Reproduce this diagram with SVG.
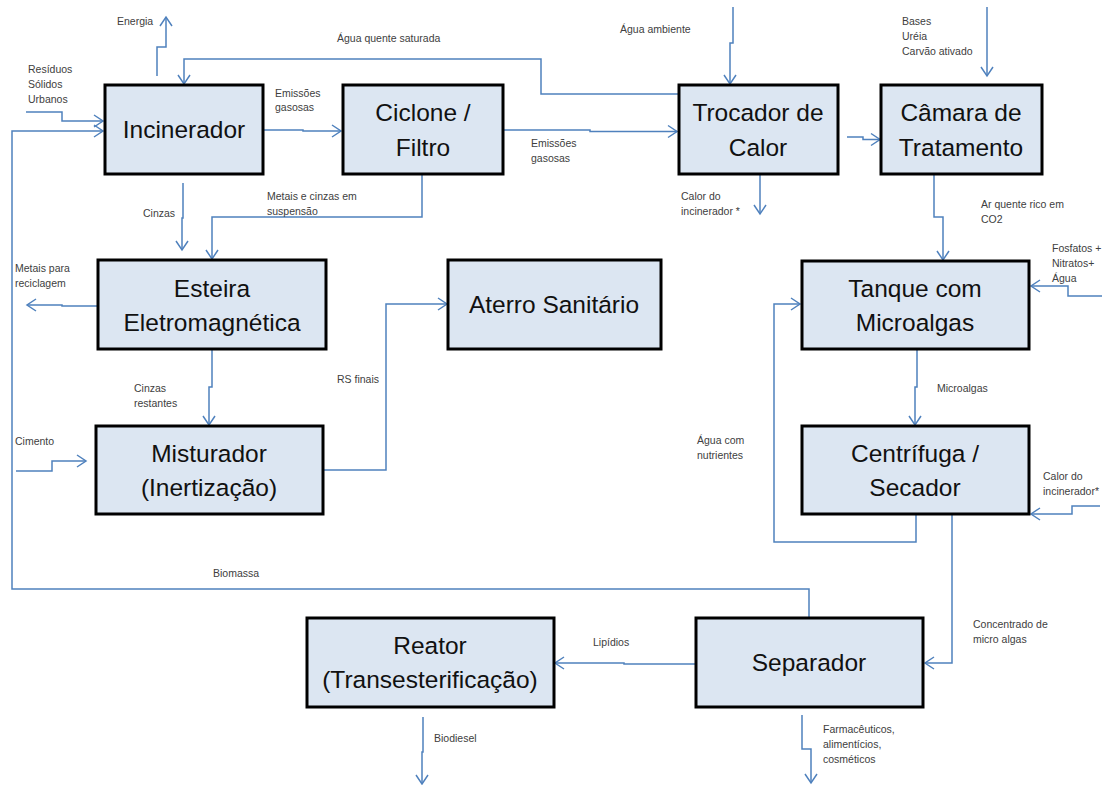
<svg xmlns="http://www.w3.org/2000/svg" width="1113" height="785" viewBox="0 0 1113 785">
<style>
.box{fill:#DCE6F2;stroke:#000;stroke-width:3}
.big{font-family:"Liberation Sans",Arial,sans-serif;font-size:24.5px;fill:#111;text-anchor:middle}
.sm{font-family:"Liberation Sans",Arial,sans-serif;font-size:10.5px;fill:#404040}
.ln{fill:none;stroke:#4F81BD;stroke-width:1.5;marker-end:url(#ah)}
.ln0{fill:none;stroke:#4F81BD;stroke-width:1.5}
</style>
<defs>
<marker id="ah" markerUnits="userSpaceOnUse" markerWidth="20" markerHeight="20" viewBox="-12 -10 14 20" refX="0" refY="0" orient="auto">
<path d="M-9,-6 L0,0 L-9,6" fill="none" stroke="#4F81BD" stroke-width="1.5"/>
</marker>
</defs>
<rect width="1113" height="785" fill="#fff"/>

<g id="connectors">
<path class="ln" d="M157,76 V47 H166 V17"/>
<path class="ln" d="M26,112 H62 V121 H103"/>
<path class="ln" d="M809,618 V589 H12 V131 H103"/>
<path class="ln" d="M678,94 H541 V59 H184 V84"/>
<path class="ln" d="M264,130 H303 V131 H341"/>
<path class="ln" d="M503,130 H590 V131.5 H677"/>
<path class="ln" d="M733,7 V43 H730 V84"/>
<path class="ln" d="M847,137 H863 V139.5 H880"/>
<path class="ln" d="M987,7 V76"/>
<path class="ln" d="M760,175 V214"/>
<path class="ln" d="M934,175 V217 H943 V260"/>
<path class="ln" d="M1102,296 H1068 V286 H1031"/>
<path class="ln" d="M916,515 V542 H774 V304 H800"/>
<path class="ln" d="M917,350 V387 H915 V425"/>
<path class="ln" d="M1100,506 H1072 V514 H1031"/>
<path class="ln" d="M952,515 V663 H925"/>
<path class="ln" d="M696,664 H624 V663 H555"/>
<path class="ln" d="M423,717 V752 H422 V784"/>
<path class="ln" d="M802,715 V749 H811 V783"/>
<path class="ln" d="M183,183 V218 H182 V250"/>
<path class="ln" d="M422,175 V217 H212 V259"/>
<path class="ln" d="M97,306 H62 V305 H27"/>
<path class="ln" d="M212,350 V387 H209 V425"/>
<path class="ln" d="M16,471 H52 V461 H86"/>
<path class="ln" d="M323,470 H386 V304 H447"/>
</g>

<g id="labels">
<text class="sm" x="117" y="25">Energia</text>
<text class="sm" x="28" y="73">Resíduos</text>
<text class="sm" x="28" y="88">Sólidos</text>
<text class="sm" x="28" y="103">Urbanos</text>
<text class="sm" x="337" y="42">Água quente saturada</text>
<text class="sm" x="275" y="97">Emissões</text>
<text class="sm" x="275" y="111">gasosas</text>
<text class="sm" x="531" y="147">Emissões</text>
<text class="sm" x="531" y="162">gasosas</text>
<text class="sm" x="620" y="33">Água ambiente</text>
<text class="sm" x="902" y="25">Bases</text>
<text class="sm" x="902" y="40">Uréia</text>
<text class="sm" x="902" y="55">Carvão ativado</text>
<text class="sm" x="681" y="200">Calor do</text>
<text class="sm" x="681" y="215">incinerador *</text>
<text class="sm" x="981" y="208">Ar quente rico em</text>
<text class="sm" x="981" y="223">CO2</text>
<text class="sm" x="1052" y="252">Fosfatos +</text>
<text class="sm" x="1052" y="267">Nitratos+</text>
<text class="sm" x="1052" y="282">Água</text>
<text class="sm" x="143" y="217">Cinzas</text>
<text class="sm" x="267" y="200">Metais e cinzas em</text>
<text class="sm" x="267" y="215">suspensão</text>
<text class="sm" x="15" y="272">Metais para</text>
<text class="sm" x="15" y="287">reciclagem</text>
<text class="sm" x="134" y="392">Cinzas</text>
<text class="sm" x="134" y="407">restantes</text>
<text class="sm" x="15" y="445">Cimento</text>
<text class="sm" x="337" y="383">RS finais</text>
<text class="sm" x="937" y="392">Microalgas</text>
<text class="sm" x="697" y="444">Água com</text>
<text class="sm" x="697" y="459">nutrientes</text>
<text class="sm" x="1043" y="480">Calor do</text>
<text class="sm" x="1043" y="495">incinerador*</text>
<text class="sm" x="213" y="577">Biomassa</text>
<text class="sm" x="973" y="628">Concentrado de</text>
<text class="sm" x="973" y="643">micro algas</text>
<text class="sm" x="593" y="646">Lipídios</text>
<text class="sm" x="434" y="742">Biodiesel</text>
<text class="sm" x="823" y="733">Farmacêuticos,</text>
<text class="sm" x="823" y="748">alimentícios,</text>
<text class="sm" x="823" y="763">cosméticos</text>
</g>

<g id="incinerador">
<rect class="box" x="105" y="85" width="158" height="89"/>
<text class="big" x="184" y="138">Incinerador</text>
</g>
<g id="ciclone">
<rect class="box" x="343" y="85" width="160" height="89"/>
<text class="big" x="423" y="121">Ciclone /</text>
<text class="big" x="423" y="156">Filtro</text>
</g>
<g id="trocador">
<rect class="box" x="679" y="85" width="159" height="89"/>
<text class="big" x="758" y="121">Trocador de</text>
<text class="big" x="758" y="156">Calor</text>
</g>
<g id="camara">
<rect class="box" x="881" y="85" width="161" height="89"/>
<text class="big" x="961" y="121">Câmara de</text>
<text class="big" x="961" y="156">Tratamento</text>
</g>
<g id="esteira">
<rect class="box" x="98" y="260" width="228" height="89"/>
<text class="big" x="212" y="297">Esteira</text>
<text class="big" x="212" y="331">Eletromagnética</text>
</g>
<g id="aterro">
<rect class="box" x="448" y="260" width="213" height="89"/>
<text class="big" x="554" y="313">Aterro Sanitário</text>
</g>
<g id="tanque">
<rect class="box" x="802" y="261" width="227" height="88"/>
<text class="big" x="915" y="297">Tanque com</text>
<text class="big" x="915" y="331">Microalgas</text>
</g>
<g id="misturador">
<rect class="box" x="96" y="426" width="227" height="88"/>
<text class="big" x="209" y="462">Misturador</text>
<text class="big" x="209" y="496">(Inertização)</text>
</g>
<g id="centrifuga">
<rect class="box" x="802" y="426" width="227" height="88"/>
<text class="big" x="915" y="462">Centrífuga /</text>
<text class="big" x="915" y="496">Secador</text>
</g>
<g id="reator">
<rect class="box" x="307" y="618" width="247" height="89"/>
<text class="big" x="430" y="654">Reator</text>
<text class="big" x="430" y="688">(Transesterificação)</text>
</g>
<g id="separador">
<rect class="box" x="696" y="618" width="227" height="89"/>
<text class="big" x="809" y="671">Separador</text>
</g>
</svg>
